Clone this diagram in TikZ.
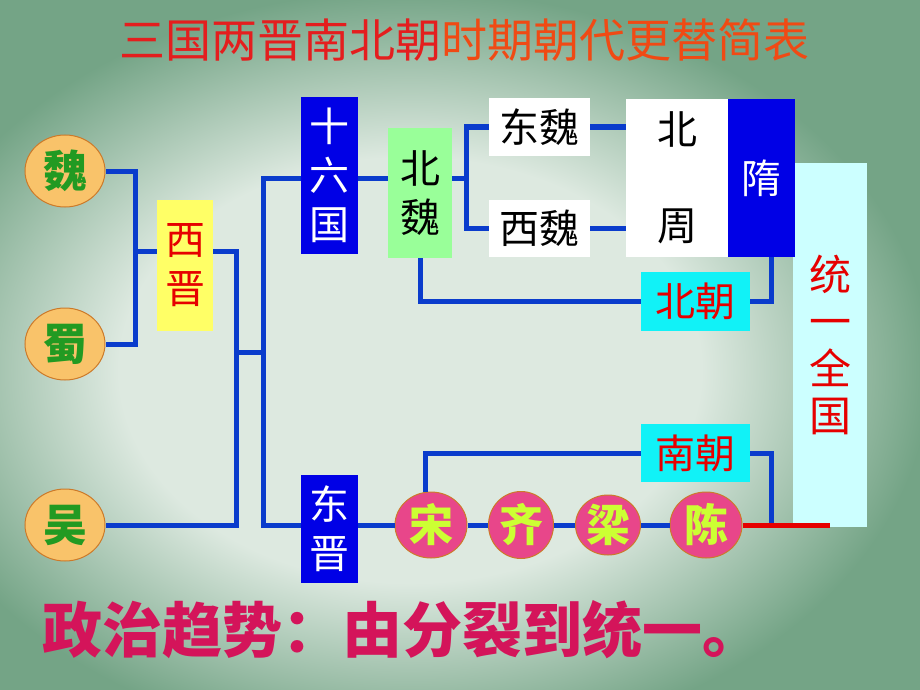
\documentclass[tikz,border=0pt]{standalone}
\usepackage{fontspec}
\newfontfamily\cjk{Noto Sans CJK SC}
\usepackage{xcolor}
\definecolor{colorBgDark}{HTML}{74A486}
\definecolor{colorBgLight}{HTML}{DDE9E0}
\definecolor{colorLine}{HTML}{0A3CCC}
\definecolor{colorKingdom}{HTML}{F9C36A}
\definecolor{colorKingdomEdge}{HTML}{CC7A2A}
\definecolor{colorKingdomText}{HTML}{229A22}
\definecolor{colorSouth}{HTML}{E8468A}
\definecolor{colorSouthText}{HTML}{CCFF33}
\definecolor{colorBlue}{HTML}{0000E6}
\definecolor{colorYellow}{HTML}{FFFF66}
\definecolor{colorGreenBox}{HTML}{99FF99}
\definecolor{colorCyan}{HTML}{11F2F7}
\definecolor{colorPale}{HTML}{CCFFFF}
\definecolor{colorRed}{HTML}{E60000}
\definecolor{colorTitleA}{HTML}{E41E1E}
\definecolor{colorTitleB}{HTML}{F04A14}
\definecolor{colorTrend}{HTML}{D4145A}
\usepackage{tikz}
\usetikzlibrary{shapes.geometric, positioning}
\pgfdeclareradialshading{bgblob}{\pgfpoint{0bp}{0bp}}{color(0bp)=(colorBgLight); color(14bp)=(colorBgLight); color(25bp)=(colorBgDark); color(50bp)=(colorBgDark)}
\tikzset{
  kingdom/.style={ellipse, draw=colorKingdomEdge, line width=1pt, fill=colorKingdom, text=colorKingdomText, font=\cjk\bfseries\fontsize{44}{44}\selectfont, minimum width=80pt, minimum height=72pt},
  southCircle/.style={ellipse, draw=colorKingdomEdge, line width=1pt, fill=colorSouth, text=colorSouthText, font=\cjk\bfseries\fontsize{44}{44}\selectfont, minimum width=72pt, minimum height=66pt},
  dynasty/.style={rectangle, align=center, font=\cjk\fontsize{40}{49}\selectfont},
  link/.style={draw=colorLine, line width=5pt},
  redLink/.style={draw=colorRed, line width=5pt}
}

\begin{document}
\begin{tikzpicture}[x=1pt, y=-1pt, every node/.style={inner sep=0pt}]
\useasboundingbox (0,0) rectangle (920,690);
\begin{scope}
\clip (0,0) rectangle (920,690);
\fill[colorBgDark] (0,0) rectangle (920,690);
\shade[shading=bgblob] (410,370) ellipse (520pt and 380pt);
\end{scope}

\node[font=\cjk\fontsize{46}{46}\selectfont] (title) at (464,40) {\textcolor{colorTitleA}{三国两晋南北朝}\textcolor{colorTitleB}{时期朝代更替简表}};

% three kingdoms
\node[kingdom] (wei) at (65,171) {魏};
\node[kingdom] (shu) at (65,344) {蜀};
\node[kingdom] (wu) at (65,525) {吴};

% north
\node[dynasty, fill=colorYellow, text=colorRed, minimum width=56pt, minimum height=131pt] (xijin) at (185,265) {西\\晋};
\node[dynasty, fill=colorBlue, text=white, minimum width=57pt, minimum height=157pt] (shiliu) at (329.5,175.5) {十\\六\\国};
\node[dynasty, fill=colorGreenBox, text=black, minimum width=64pt, minimum height=130pt] (beiwei) at (420,193) {北\\魏};
\node[dynasty, fill=white, text=black, minimum width=101pt, minimum height=58pt] (dongwei) at (539.5,127) {东魏};
\node[dynasty, fill=white, text=black, minimum width=101pt, minimum height=57pt] (xiwei) at (539.5,228.5) {西魏};
\node[dynasty, fill=white, text=black, minimum width=102pt, minimum height=158pt, font=\cjk\fontsize{40}{96}\selectfont] (beizhou) at (677,178) {北\\周};
\node[dynasty, fill=colorPale, text=colorRed, minimum width=74pt, minimum height=364pt, font=\cjk\fontsize{42}{47}\selectfont] (tongyi) at (830,345) {统\\一\\全\\国};
\node[dynasty, fill=colorBlue, text=white, minimum width=67pt, minimum height=158pt] (sui) at (761.5,178) {隋};
\node[dynasty, fill=colorCyan, text=colorRed, minimum width=109pt, minimum height=59pt] (beichao) at (695.5,301.5) {北朝};

% south
\node[dynasty, fill=colorBlue, text=white, minimum width=57pt, minimum height=108pt] (dongjin) at (329.5,529) {东\\晋};
\node[dynasty, fill=colorCyan, text=colorRed, minimum width=109pt, minimum height=58pt] (nanchao) at (695.5,453) {南朝};
\node[southCircle] (song) at (431,525) {宋};
\node[southCircle, minimum width=65pt, minimum height=67pt] (qi) at (521,525) {齐};
\node[southCircle, minimum width=65pt, minimum height=60pt] (liang) at (608,525) {梁};
\node[southCircle] (chen) at (706,525) {陈};

\node[font=\cjk\bfseries\fontsize{60}{60}\selectfont, text=colorTrend] (trend) at (402,630) {政治趋势：由分裂到统一。};

\coordinate (j1) at (135,251);
\coordinate (j2) at (236,352);
\coordinate (j3) at (263,352);
\coordinate (j4) at (263,178);
\coordinate (j5) at (263,525);
\coordinate (j6) at (466,178);
\coordinate (j7) at (771,525);

\draw[link] (wei.east) -| (j1) |- (shu.east);
\draw[link] (j1) -- (j1 -| xijin.west);
\draw[link] (j1 -| xijin.east) -| (j2) |- (wu.east);
\draw[link] (j2) -- (j3);
\draw[link] (j4 -| shiliu.west) -| (j5) -- (j5 -| dongjin.west);
\draw[link] (j4 -| shiliu.east) -- (j4 -| beiwei.west);
\draw[link] (j4 -| beiwei.east) -- (j6);
\draw[link] (dongwei.west) -| (j6) |- (xiwei.west);
\draw[link] (dongwei.east) -- (dongwei.east -| beizhou.west);
\draw[link] (xiwei.east) -- (xiwei.east -| beizhou.west);
\draw[link] (beiwei.south) |- (beichao.west);
\draw[link] (beichao.east) -| ([xshift=10pt]sui.south);
\draw[link] (j5 -| dongjin.east) -- (song.west);
\draw[link] (song.east) -- (qi.west);
\draw[link] (qi.east) -- (liang.west);
\draw[link] (liang.east) -- (chen.west);
\draw[link] (song.100) |- (nanchao.west);
\draw[link] (nanchao.east) -| (j7);
\draw[redLink] (chen.east) -- (chen.east -| tongyi.south);
\end{tikzpicture}
\end{document}
